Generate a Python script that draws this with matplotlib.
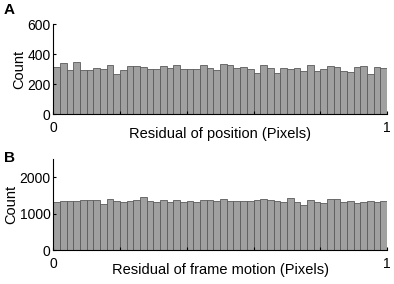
import numpy as np
import matplotlib
matplotlib.use("Agg")
import matplotlib.pyplot as plt

plt.rcParams['font.family'] = ['Liberation Sans', 'DejaVu Sans']

# Histogram counts (50 bins over [0, 1])
position_counts = [316, 338, 291, 347, 293, 296, 304, 300, 324, 269, 296, 320, 322,
                   311, 302, 300, 322, 309, 324, 298, 300, 302, 324, 304, 293,
                   336, 327, 304, 311, 300, 273, 327, 309, 273, 307, 300, 304, 287,
                   324, 289, 300, 318, 316, 289, 280, 313, 318, 269, 316, 304]
motion_counts = [1315, 1361, 1361, 1343, 1380, 1380, 1370, 1278, 1407, 1361, 1324, 1352, 1380,
                 1470, 1343, 1324, 1370, 1333, 1370, 1315, 1343, 1315, 1380, 1380, 1352,
                 1410, 1361, 1361, 1361, 1361, 1389, 1417, 1389, 1361, 1333, 1435, 1315, 1250,
                 1389, 1333, 1296, 1407, 1407, 1333, 1361, 1296, 1333, 1361, 1315, 1361]
x_ticks = [0, 0.2, 0.4, 0.6, 0.8, 1.0]
x_ticklabels = ['0', '', '', '', '', '1']
top_yticks = [0, 200, 400, 600]
bot_yticks = [0, 1000, 2000]

W, H = 394, 284
fig = plt.figure(figsize=(W / 100, H / 100), dpi=100)

def px_axes(left, top, right, bottom):
    return fig.add_axes([left / W, (H - bottom) / H, (right - left) / W, (bottom - top) / H])

axA = px_axes(53.3, 24, 387, 114)
axB = px_axes(53.3, 159.3, 387, 250)

edges = np.linspace(0, 1, len(position_counts) + 1)

def style(ax, counts, ylim, yticks, xlabel):
    ax.bar(edges[:-1], counts, width=np.diff(edges), align='edge',
           color='#a0a0a0', edgecolor='#5a5a5a', linewidth=0.6)
    ax.set_xlim(0, 1)
    ax.set_ylim(0, ylim)
    ax.set_yticks(yticks)
    ax.set_xticks(x_ticks)
    ax.set_xticklabels(x_ticklabels)
    for s in ['top', 'right']:
        ax.spines[s].set_visible(False)
    for s in ['left', 'bottom']:
        ax.spines[s].set_linewidth(0.8)
    ax.tick_params(direction='in', length=2.5, width=0.8, labelsize=10)
    ax.tick_params(axis='x', pad=5)
    ax.tick_params(axis='y', pad=2)
    ax.set_ylabel('Count', fontsize=10.5, labelpad=1)
    ax.set_xlabel(xlabel, fontsize=10.5, labelpad=-6)

style(axA, position_counts, 600, top_yticks, 'Residual of position (Pixels)')
style(axB, motion_counts, 2500, bot_yticks, 'Residual of frame motion (Pixels)')

fig.text(4 / W, 1 - 10 / H, 'A', fontsize=11, fontweight='bold', va='center', ha='left')
fig.text(4 / W, 1 - 158 / H, 'B', fontsize=11, fontweight='bold', va='center', ha='left')

fig.savefig('out.png', dpi=100)
